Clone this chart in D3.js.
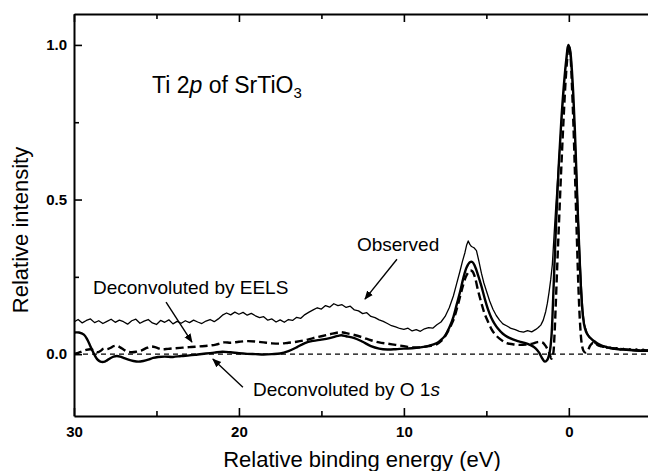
<!DOCTYPE html>
<html>
<head>
<meta charset="utf-8">
<script src="https://cdn.jsdelivr.net/npm/d3@7"></script>
<style>
  html, body { margin: 0; padding: 0; background: #fff; }
  svg { display: block; font-family: "Liberation Sans", Arial, Helvetica, sans-serif; }
</style>
</head>
<body>
<svg id="chart" width="648" height="471"></svg>
<script>
// Ti 2p spectrum of SrTiO3: [relative binding energy (eV), relative intensity]
const observed = [
  [30.00,0.104],[29.75,0.112],[29.50,0.101],[29.25,0.109],[29.00,0.114],[28.75,0.102],[28.50,0.108],[28.25,0.099],
  [28.00,0.106],[27.75,0.113],[27.50,0.103],[27.25,0.110],[27.00,0.105],[26.75,0.097],[26.50,0.108],[26.25,0.113],
  [26.00,0.100],[25.75,0.107],[25.50,0.112],[25.25,0.101],[25.00,0.096],[24.75,0.109],[24.50,0.103],[24.25,0.111],
  [24.00,0.098],[23.75,0.106],[23.50,0.100],[23.25,0.108],[23.00,0.102],[22.75,0.110],[22.50,0.104],[22.25,0.099],
  [22.00,0.107],[21.75,0.112],[21.50,0.105],[21.25,0.114],[21.00,0.126],[20.75,0.133],[20.50,0.127],[20.25,0.136],
  [20.00,0.129],[19.75,0.135],[19.50,0.126],[19.25,0.132],[19.00,0.124],[18.75,0.118],[18.50,0.121],[18.25,0.110],
  [18.00,0.114],[17.75,0.104],[17.50,0.111],[17.25,0.103],[17.00,0.112],[16.75,0.109],[16.50,0.119],[16.25,0.116],
  [16.00,0.128],[15.75,0.136],[15.50,0.143],[15.25,0.150],[15.00,0.146],[14.75,0.157],[14.50,0.152],[14.25,0.163],
  [14.00,0.157],[13.75,0.160],[13.50,0.151],[13.25,0.155],[13.00,0.143],[12.75,0.140],[12.50,0.131],[12.25,0.134],
  [12.00,0.122],[11.75,0.118],[11.50,0.111],[11.25,0.106],[11.00,0.099],[10.75,0.092],[10.50,0.088],[10.25,0.083],
  [10.00,0.080],[9.75,0.084],[9.50,0.075],[9.25,0.079],[9.00,0.074],[8.75,0.082],[8.50,0.086],[8.25,0.084],
  [8.00,0.095],[7.75,0.104],[7.50,0.122],[7.25,0.150],[7.00,0.188],[6.80,0.228],[6.60,0.268],[6.45,0.300],
  [6.30,0.328],[6.20,0.352],[6.10,0.366],[6.00,0.355],[5.90,0.348],[5.75,0.344],[5.60,0.335],[5.45,0.300],
  [5.30,0.262],[5.15,0.230],[5.00,0.205],[4.80,0.172],[4.60,0.145],[4.40,0.125],[4.20,0.110],[4.00,0.098],
  [3.75,0.091],[3.50,0.083],[3.25,0.079],[3.00,0.074],[2.75,0.071],[2.50,0.076],[2.25,0.072],[2.00,0.080],
  [1.85,0.086],[1.70,0.094],[1.55,0.110],[1.40,0.138],[1.30,0.165],[1.20,0.200],[1.10,0.240],[1.00,0.290],
  [0.90,0.380],[0.80,0.470],[0.70,0.550],[0.60,0.630],[0.50,0.710],[0.40,0.790],[0.30,0.860],[0.20,0.925],
  [0.10,0.975],[0.02,1.000],[-0.05,0.990],[-0.15,0.930],[-0.25,0.850],[-0.35,0.740],[-0.45,0.610],[-0.55,0.470],
  [-0.65,0.340],[-0.75,0.230],[-0.85,0.140],[-0.95,0.095],[-1.10,0.070],[-1.25,0.055],[-1.40,0.046],[-1.55,0.037],
  [-1.70,0.030],[-1.90,0.024],[-2.10,0.027],[-2.30,0.019],[-2.50,0.023],[-2.70,0.016],[-2.90,0.021],[-3.10,0.014],
  [-3.30,0.019],[-3.50,0.013],[-3.70,0.018],[-3.90,0.012],[-4.10,0.017],[-4.30,0.011],[-4.50,0.016],[-4.70,0.012],
  [-4.90,0.015]
];

const deconvO1s = [
  [30.0,0.070],[29.7,0.070],[29.4,0.063],[29.2,0.048],[29.0,0.025],[28.8,0.002],[28.6,-0.016],[28.4,-0.024],
  [28.2,-0.025],[28.0,-0.020],[27.8,-0.013],[27.6,-0.008],[27.4,-0.006],[27.2,-0.008],[27.0,-0.012],[26.7,-0.018],
  [26.4,-0.022],[26.1,-0.024],[25.8,-0.022],[25.5,-0.018],[25.2,-0.012],[24.9,-0.009],[24.5,-0.008],[24.0,-0.009],
  [23.5,-0.006],[23.0,-0.004],[22.5,-0.001],[22.0,0.002],[21.5,0.005],[21.0,0.008],[20.5,0.006],[20.0,0.003],
  [19.5,0.001],[19.0,0.000],[18.5,-0.001],[18.0,0.000],[17.5,0.002],[17.0,0.010],[16.5,0.022],[16.0,0.036],
  [15.5,0.043],[15.0,0.047],[14.5,0.052],[14.0,0.059],[13.8,0.061],[13.5,0.058],[13.0,0.052],[12.5,0.040],
  [12.0,0.026],[11.5,0.018],[11.0,0.015],[10.5,0.016],[10.0,0.018],[9.5,0.019],[9.0,0.022],[8.5,0.027],
  [8.0,0.036],[7.75,0.046],[7.5,0.060],[7.25,0.085],[7.0,0.120],[6.8,0.160],[6.6,0.200],[6.4,0.245],
  [6.2,0.280],[6.0,0.297],[5.85,0.298],[5.7,0.285],[5.5,0.255],[5.3,0.220],[5.1,0.180],[4.9,0.145],
  [4.7,0.118],[4.5,0.098],[4.3,0.083],[4.0,0.066],[3.7,0.055],[3.4,0.048],[3.1,0.042],[2.8,0.038],
  [2.5,0.033],[2.2,0.026],[2.0,0.018],[1.8,0.005],[1.6,-0.015],[1.45,-0.024],[1.3,-0.018],[1.15,0.010],
  [1.05,0.060],[0.95,0.180],[0.85,0.320],[0.75,0.450],[0.6,0.620],[0.45,0.760],[0.3,0.870],[0.15,0.955],
  [0.03,1.000],[-0.07,0.985],[-0.17,0.930],[-0.27,0.840],[-0.37,0.720],[-0.47,0.570],[-0.57,0.420],[-0.67,0.290],
  [-0.77,0.180],[-0.87,0.115],[-0.97,0.085],[-1.1,0.066],[-1.25,0.055],[-1.4,0.048],[-1.6,0.040],[-1.8,0.033],
  [-2.0,0.028],[-2.3,0.023],[-2.6,0.019],[-3.0,0.016],[-3.5,0.014],[-4.0,0.012],[-4.5,0.011],[-4.9,0.011]
];

const deconvEELS = [
  [30.0,0.000],[29.8,0.003],[29.6,0.007],[29.3,0.013],[29.0,0.016],[28.8,0.012],[28.6,0.006],[28.4,0.010],
  [28.2,0.018],[28.0,0.016],[27.8,0.020],[27.6,0.026],[27.4,0.027],[27.2,0.022],[27.0,0.015],[26.8,0.009],
  [26.5,0.006],[26.2,0.008],[25.9,0.012],[25.6,0.020],[25.3,0.025],[25.0,0.021],[24.7,0.016],[24.3,0.017],
  [23.9,0.019],[23.4,0.021],[22.9,0.023],[22.4,0.025],[21.9,0.027],[21.4,0.031],[20.9,0.038],[20.5,0.037],
  [20.0,0.040],[19.5,0.042],[19.0,0.041],[18.5,0.038],[18.0,0.035],[17.5,0.034],[17.0,0.037],[16.5,0.040],
  [16.0,0.045],[15.5,0.052],[15.0,0.058],[14.5,0.064],[14.0,0.070],[13.8,0.071],[13.5,0.068],[13.0,0.062],
  [12.5,0.054],[12.0,0.045],[11.5,0.038],[11.0,0.034],[10.5,0.030],[10.0,0.026],[9.5,0.022],[9.0,0.022],
  [8.5,0.026],[8.0,0.032],[7.75,0.042],[7.5,0.058],[7.25,0.082],[7.0,0.110],[6.8,0.145],[6.6,0.185],
  [6.4,0.225],[6.2,0.255],[6.0,0.270],[5.85,0.268],[5.7,0.250],[5.5,0.205],[5.3,0.165],[5.1,0.130],
  [4.9,0.105],[4.7,0.082],[4.5,0.066],[4.2,0.050],[3.8,0.036],[3.4,0.032],[3.0,0.030],[2.6,0.031],
  [2.2,0.034],[1.9,0.039],[1.6,0.038],[1.4,0.026],[1.2,0.005],[1.05,-0.015],[0.95,0.000],[0.88,0.050],
  [0.8,0.150],[0.7,0.290],[0.6,0.420],[0.5,0.550],[0.4,0.670],[0.3,0.780],[0.2,0.880],[0.1,0.955],
  [0.02,1.000],[-0.08,0.975],[-0.18,0.880],[-0.28,0.740],[-0.38,0.570],[-0.48,0.390],[-0.58,0.220],[-0.68,0.100],
  [-0.78,0.035],[-0.88,0.012],[-1.0,0.005],[-1.15,0.012],[-1.3,0.028],[-1.45,0.036],[-1.6,0.034],[-1.8,0.028],
  [-2.1,0.024],[-2.5,0.020],[-3.0,0.017],[-3.5,0.015],[-4.0,0.013],[-4.5,0.012],[-4.9,0.012]
];

// Axis ticks
const xMajorTicks = [30, 20, 10, 0];
const xMinorTicks = [25, 15, 5];
const yMajorTicks = [0.0, 0.5, 1.0];
const yMinorTicks = [0.25, 0.75];

// Text annotations with arrows: label anchor and arrow [from, to] in data units
const annotations = [
  { text: "Observed", at: [12.85, 0.333], arrow: [[10.42, 0.307], [12.36, 0.178]] },
  { text: "Deconvoluted by EELS", at: [28.85, 0.194], arrow: [[24.42, 0.168], [22.85, 0.039]] },
  { text: "Deconvoluted by O 1", italic: "s", at: [19.15, -0.136], arrow: [[19.76, -0.107], [21.58, -0.016]] }
];

const svg = d3.select("#chart");
const plotLeft = 74, plotRight = 648, plotTop = 14, plotBottom = 416;

const x = d3.scaleLinear().domain([30, -4.8]).range([plotLeft, plotRight]);
const y = d3.scaleLinear().domain([-0.2, 1.1]).range([plotBottom, plotTop]);

const defs = svg.append("defs");
defs.append("clipPath").attr("id", "plotArea")
  .append("rect").attr("x", plotLeft).attr("y", plotTop)
  .attr("width", plotRight - plotLeft).attr("height", plotBottom - plotTop);

defs.append("marker")
  .attr("id", "head").attr("viewBox", "0 0 10 10").attr("refX", 9).attr("refY", 5)
  .attr("markerWidth", 9).attr("markerHeight", 9).attr("markerUnits", "userSpaceOnUse")
  .attr("orient", "auto")
  .append("path").attr("d", "M0,1 L10,5 L0,9 Z").attr("fill", "#000");

const plot = svg.append("g").attr("clip-path", "url(#plotArea)");

// zero baseline
plot.append("line")
  .attr("x1", x(30)).attr("x2", x(-4.8)).attr("y1", y(0)).attr("y2", y(0))
  .attr("stroke", "#000").attr("stroke-width", 1.1).attr("stroke-dasharray", "5,4");

const lineLin = d3.line().x(d => x(d[0])).y(d => y(d[1]));
const lineSmooth = d3.line().x(d => x(d[0])).y(d => y(d[1])).curve(d3.curveCatmullRom.alpha(0.5));

plot.append("path").datum(observed).attr("d", lineLin)
  .attr("fill", "none").attr("stroke", "#000").attr("stroke-width", 1.3).attr("stroke-linejoin", "round");

plot.append("path").datum(deconvEELS).attr("d", lineSmooth)
  .attr("fill", "none").attr("stroke", "#000").attr("stroke-width", 2.4).attr("stroke-dasharray", "8,4");

plot.append("path").datum(deconvO1s).attr("d", lineSmooth)
  .attr("fill", "none").attr("stroke", "#000").attr("stroke-width", 2.4).attr("stroke-linejoin", "round");

// Axes: ticks point inward
const axisStyle = g => {
  g.select(".domain").attr("stroke-width", 2);
  g.selectAll(".tick line").attr("stroke-width", 1.6);
  g.selectAll("text").attr("font-size", 15).attr("font-weight", "bold").attr("fill", "#000")
    .attr("font-family", "\"Liberation Sans\", Arial, sans-serif");
};

svg.append("g").attr("transform", `translate(0,${plotBottom})`)
  .call(d3.axisBottom(x).tickValues(xMajorTicks).tickFormat(d3.format("d")).tickSize(-8).tickSizeOuter(0).tickPadding(10))
  .call(axisStyle);
svg.append("g").attr("transform", `translate(0,${plotBottom})`)
  .call(d3.axisBottom(x).tickValues(xMinorTicks).tickFormat("").tickSize(-5).tickSizeOuter(0))
  .call(g => g.select(".domain").remove()).call(axisStyle);

svg.append("g").attr("transform", `translate(0,${plotTop})`)
  .call(d3.axisTop(x).tickValues(xMajorTicks).tickFormat("").tickSize(-8).tickSizeOuter(0))
  .call(axisStyle);
svg.append("g").attr("transform", `translate(0,${plotTop})`)
  .call(d3.axisTop(x).tickValues(xMinorTicks).tickFormat("").tickSize(-5).tickSizeOuter(0))
  .call(g => g.select(".domain").remove()).call(axisStyle);

svg.append("g").attr("transform", `translate(${plotLeft},0)`)
  .call(d3.axisLeft(y).tickValues(yMajorTicks).tickFormat(d3.format(".1f")).tickSize(-8).tickSizeOuter(0).tickPadding(7))
  .call(axisStyle);
svg.append("g").attr("transform", `translate(${plotLeft},0)`)
  .call(d3.axisLeft(y).tickValues(yMinorTicks).tickFormat("").tickSize(-5).tickSizeOuter(0))
  .call(g => g.select(".domain").remove()).call(axisStyle);

// Axis titles
svg.append("text")
  .attr("x", 362).attr("y", 467)
  .attr("text-anchor", "middle").attr("font-size", 22)
  .text("Relative binding energy (eV)");

svg.append("text")
  .attr("transform", "translate(28,230) rotate(-90)")
  .attr("text-anchor", "middle").attr("font-size", 22)
  .text("Relative intensity");

// Sample label
const title = svg.append("text").attr("x", x(25.27)).attr("y", y(0.845)).attr("font-size", 23);
title.append("tspan").text("Ti 2");
title.append("tspan").attr("font-style", "italic").text("p");
title.append("tspan").text(" of SrTiO");
title.append("tspan").attr("font-size", 15).attr("dy", 5).text("3");

// Curve annotations
annotations.forEach(a => {
  const t = svg.append("text").attr("x", x(a.at[0])).attr("y", y(a.at[1])).attr("font-size", 19);
  t.append("tspan").text(a.text);
  if (a.italic) t.append("tspan").attr("font-style", "italic").text(a.italic);
  svg.append("line")
    .attr("x1", x(a.arrow[0][0])).attr("y1", y(a.arrow[0][1]))
    .attr("x2", x(a.arrow[1][0])).attr("y2", y(a.arrow[1][1]))
    .attr("stroke", "#000").attr("stroke-width", 1.4).attr("marker-end", "url(#head)");
});
</script>
</body>
</html>
